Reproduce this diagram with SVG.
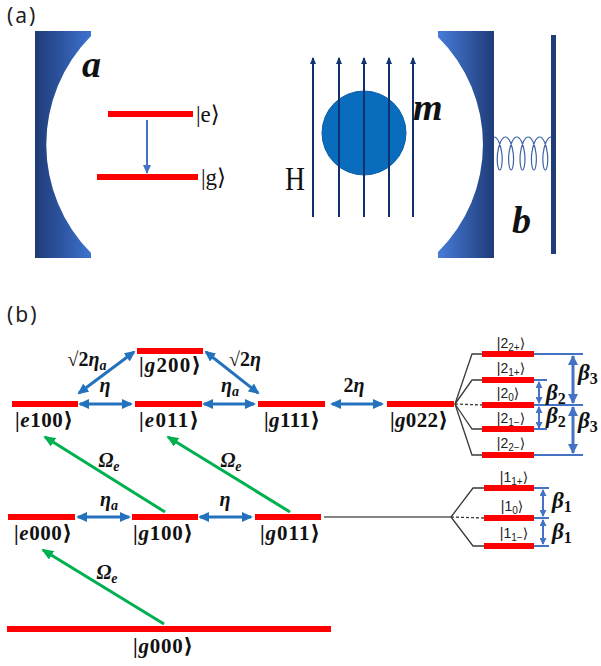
<svg xmlns="http://www.w3.org/2000/svg" width="601" height="666" viewBox="0 0 601 666">
  <defs>
    <linearGradient id="mirL" x1="0" y1="0" x2="1" y2="0">
      <stop offset="0" stop-color="#1f3b76"/>
      <stop offset="1" stop-color="#3d72d0"/>
    </linearGradient>
    <linearGradient id="mirR" x1="0" y1="0" x2="1" y2="0">
      <stop offset="0" stop-color="#477cd9"/>
      <stop offset="1" stop-color="#1f3c78"/>
    </linearGradient>
    <marker id="mField" viewBox="0 0 7 6" refX="6" refY="3" markerWidth="7" markerHeight="6" markerUnits="userSpaceOnUse" orient="auto">
      <path d="M0,0 L7,3 L0,6 z" fill="#10306e"/>
    </marker>
    <marker id="mDecay" viewBox="0 0 9 8" refX="8" refY="4" markerWidth="9" markerHeight="8" markerUnits="userSpaceOnUse" orient="auto">
      <path d="M0,0 L9,4 L0,8 z" fill="#4472c4"/>
    </marker>
    <marker id="mBlue" viewBox="0 0 11 10" refX="9" refY="5" markerWidth="11" markerHeight="10" markerUnits="userSpaceOnUse" orient="auto-start-reverse">
      <path d="M0,0 L11,5 L0,10 z" fill="#2472bd"/>
    </marker>
    <marker id="mGreen" viewBox="0 0 12 10" refX="10" refY="5" markerWidth="12" markerHeight="10" markerUnits="userSpaceOnUse" orient="auto">
      <path d="M0,0 L12,5 L0,10 z" fill="#00b050"/>
    </marker>
    <marker id="mBig" viewBox="0 0 10 10" refX="9" refY="5" markerWidth="10" markerHeight="10" markerUnits="userSpaceOnUse" orient="auto-start-reverse">
      <path d="M0,0 L10,5 L0,10 z" fill="#4472c4"/>
    </marker>
    <marker id="mSmall" viewBox="0 0 7 7" refX="6" refY="3.5" markerWidth="7" markerHeight="7" markerUnits="userSpaceOnUse" orient="auto-start-reverse">
      <path d="M0,0 L7,3.5 L0,7 z" fill="#4472c4"/>
    </marker>
  </defs>
  <style>
    .tag { font-family: "Noto Sans", "Liberation Sans", sans-serif; font-size: 21px; fill: #222; letter-spacing: 2px; }
    .bi { font-family: "Liberation Serif", "DejaVu Serif", serif; font-weight: bold; font-style: italic; fill: #111; }
    .ket { font-family: "Liberation Serif", "DejaVu Serif", serif; font-size: 23px; fill: #111; }
    .lv { fill: #ff0000; }
    .st { font-family: "Liberation Serif", "DejaVu Serif", serif; font-weight: bold; font-size: 21px; fill: #111; text-anchor: middle; }
    .it { font-style: italic; }
    .gk { font-family: "Liberation Serif", "DejaVu Serif", serif; font-weight: bold; font-style: italic; font-size: 20px; fill: #111; text-anchor: middle; }
    .up { font-style: normal; }
    .sub { font-size: 14px; }
    .fs { font-family: "Liberation Sans", "DejaVu Sans", sans-serif; font-size: 14px; fill: #222; text-anchor: middle; }
    .fsub { font-size: 10px; }
    .beta { font-family: "Liberation Serif", "DejaVu Serif", serif; font-weight: bold; font-style: italic; font-size: 23px; fill: #111; }
    .bsub { font-style: normal; font-size: 16px; }
    .blue2 { stroke: #2472bd; stroke-width: 3; fill: none; marker-start: url(#mBlue); marker-end: url(#mBlue); }
    .green { stroke: #00b050; stroke-width: 3; fill: none; marker-end: url(#mGreen); }
    .fan { stroke: #3a3a3a; stroke-width: 1.3; fill: none; }
    .dash { stroke: #3a3a3a; stroke-width: 1.3; stroke-dasharray: 3 2; fill: none; }
    .split { stroke: #4472c4; stroke-width: 2; fill: none; }
    .field { stroke: #10306e; stroke-width: 2; marker-end: url(#mField); }
  </style>

  <!-- (a) cavity magnomechanical setup -->
  <g id="panel-a">
    <text class="tag" x="7" y="23">(a)</text>
    <!-- left cavity mirror -->
    <path id="mirror-left" d="M35,31 H91 V36 A154,154 0 0 0 91,253 V258 H35 Z" fill="url(#mirL)"/>
    <text class="bi" x="82" y="77" font-size="38">a</text>
    <!-- two-level atom -->
    <rect class="lv" x="108" y="111" width="85" height="6"/>
    <rect class="lv" x="97" y="174" width="101" height="6"/>
    <line x1="147" y1="120" x2="147" y2="173" stroke="#4472c4" stroke-width="2" marker-end="url(#mDecay)"/>
    <text class="ket" x="196" y="122">|e⟩</text>
    <text class="ket" x="201" y="185">|g⟩</text>
    <!-- magnon sphere in bias field -->
    <circle cx="364" cy="133" r="42" fill="#0a6cbd" stroke="#0b5ea4" stroke-width="1"/>
    <line class="field" x1="313" y1="217" x2="313" y2="58"/>
    <line class="field" x1="339" y1="217" x2="339" y2="58"/>
    <line class="field" x1="364" y1="217" x2="364" y2="58"/>
    <line class="field" x1="389" y1="217" x2="389" y2="58"/>
    <line class="field" x1="413" y1="217" x2="413" y2="58"/>
    <text x="285" y="190" font-family="Liberation Serif, DejaVu Serif, serif" font-size="34" fill="#111" textLength="20" lengthAdjust="spacingAndGlyphs">H</text>
    <text class="bi" x="413" y="120" font-size="38">m</text>
    <!-- right (movable) mirror, spring and wall -->
    <path id="mirror-right" d="M438,31 H494 V258 H438 V252 A151,151 0 0 0 438,37 Z" fill="url(#mirR)"/>
    <path id="spring" d="M494,137
      c3.568,0 6.899,7.86 7.849,16.5 c0.95,8.64 -0.482,16.5 -2.15,16.5 c-1.668,0 -3.101,-7.86 -2.151,-16.5 c0.95,-8.64 4.282,-16.5 7.85,-16.5
      c3.568,0 6.899,7.86 7.849,16.5 c0.95,8.64 -0.482,16.5 -2.15,16.5 c-1.668,0 -3.101,-7.86 -2.151,-16.5 c0.95,-8.64 4.282,-16.5 7.85,-16.5
      c3.568,0 6.899,7.86 7.849,16.5 c0.95,8.64 -0.482,16.5 -2.15,16.5 c-1.668,0 -3.101,-7.86 -2.151,-16.5 c0.95,-8.64 4.282,-16.5 7.85,-16.5
      c3.568,0 6.899,7.86 7.849,16.5 c0.95,8.64 -0.482,16.5 -2.15,16.5 c-1.668,0 -3.101,-7.86 -2.151,-16.5 c0.95,-8.64 4.282,-16.5 7.85,-16.5
      c3.568,0 6.899,7.86 7.849,16.5 c0.95,8.64 -0.482,16.5 -2.15,16.5 c-1.668,0 -3.101,-7.86 -2.151,-16.5 c0.95,-8.64 4.282,-16.5 7.85,-16.5"
      fill="none" stroke="#3f62a6" stroke-width="1.2"/>
    <rect x="551" y="35" width="5" height="219" fill="#1f3c78"/>
    <text class="bi" x="512" y="233" font-size="38">b</text>
  </g>

  <!-- (b) energy levels -->
  <text class="tag" x="7" y="322">(b)</text>

  <g id="connectors">
    <!-- coherent couplings -->
    <line class="blue2" x1="80" y1="404" x2="131" y2="404"/>
    <line class="blue2" x1="204" y1="404" x2="254" y2="404"/>
    <line class="blue2" x1="332" y1="404" x2="382" y2="404"/>
    <line class="blue2" x1="79" y1="393" x2="134" y2="352"/>
    <line class="blue2" x1="206" y1="352" x2="258" y2="393"/>
    <line class="blue2" x1="78" y1="517" x2="129" y2="517"/>
    <line class="blue2" x1="200" y1="517" x2="251" y2="517"/>
    <!-- drive fields -->
    <line class="green" x1="164" y1="624" x2="43" y2="550"/>
    <line class="green" x1="165" y1="512" x2="45" y2="437"/>
    <line class="green" x1="290" y1="512" x2="168" y2="437"/>
    <!-- splitting fans -->
    <line x1="324" y1="517" x2="451" y2="517" stroke="#5a5a5a" stroke-width="1.3"/>
    <polyline class="fan" points="455,404 472,354 482,354"/>
    <polyline class="fan" points="455,404 472,380 482,380"/>
    <line class="dash" x1="455" y1="404" x2="482" y2="405"/>
    <polyline class="fan" points="455,404 472,429 482,429"/>
    <polyline class="fan" points="455,404 472,455 482,455"/>
    <polyline class="fan" points="451,517 473,488 484,488"/>
    <line class="dash" x1="451" y1="517" x2="484" y2="518"/>
    <polyline class="fan" points="451,517 473,546 484,546"/>
    <!-- splitting markers -->
    <line class="split" x1="534" y1="354" x2="583" y2="354"/>
    <line class="split" x1="534" y1="380" x2="547" y2="380"/>
    <line class="split" x1="534" y1="405" x2="583" y2="405"/>
    <line class="split" x1="534" y1="429" x2="547" y2="429"/>
    <line class="split" x1="534" y1="455" x2="583" y2="455"/>
    <line class="split" x1="534" y1="488" x2="549" y2="488"/>
    <line class="split" x1="534" y1="518" x2="549" y2="518"/>
    <line class="split" x1="534" y1="546" x2="549" y2="546"/>
    <line x1="573" y1="356" x2="573" y2="403" stroke="#4472c4" stroke-width="3" marker-start="url(#mBig)" marker-end="url(#mBig)"/>
    <line x1="573" y1="407" x2="573" y2="453" stroke="#4472c4" stroke-width="3" marker-start="url(#mBig)" marker-end="url(#mBig)"/>
    <line x1="539" y1="382" x2="539" y2="403" stroke="#4472c4" stroke-width="2" marker-start="url(#mSmall)" marker-end="url(#mSmall)"/>
    <line x1="539" y1="407" x2="539" y2="428" stroke="#4472c4" stroke-width="2" marker-start="url(#mSmall)" marker-end="url(#mSmall)"/>
    <line x1="543" y1="490" x2="543" y2="516" stroke="#4472c4" stroke-width="2" marker-start="url(#mSmall)" marker-end="url(#mSmall)"/>
    <line x1="543" y1="520" x2="543" y2="544" stroke="#4472c4" stroke-width="2" marker-start="url(#mSmall)" marker-end="url(#mSmall)"/>
  </g>

  <!-- coupling labels -->
  <g id="coupling-labels">
    <text class="gk" x="87" y="366"><tspan class="up">√2</tspan>η<tspan class="sub" dy="4">a</tspan></text>
    <text class="gk" x="245" y="366"><tspan class="up">√2</tspan>η</text>
    <text class="gk" x="105" y="392">η</text>
    <text class="gk" x="230" y="392">η<tspan class="sub" dy="4">a</tspan></text>
    <text class="gk" x="354" y="392"><tspan class="up">2</tspan>η</text>
    <text class="gk" x="109" y="506">η<tspan class="sub" dy="4">a</tspan></text>
    <text class="gk" x="225" y="506">η</text>
    <text class="gk" x="109" y="467">Ω<tspan class="sub" dy="4">e</tspan></text>
    <text class="gk" x="231" y="467">Ω<tspan class="sub" dy="4">e</tspan></text>
    <text class="gk" x="107" y="579">Ω<tspan class="sub" dy="4">e</tspan></text>
  </g>

  <g id="g200"><rect class="lv" x="137" y="348" width="66" height="6"/><text class="st" x="170" y="372" textLength="62">|<tspan class="it">g</tspan>200⟩</text></g>
  <g id="e100"><rect class="lv" x="12" y="401" width="66" height="6"/><text class="st" x="44" y="427" textLength="58">|<tspan class="it">e</tspan>100⟩</text></g>
  <g id="e011"><rect class="lv" x="135" y="401" width="67" height="6"/><text class="st" x="169" y="427" textLength="60">|<tspan class="it">e</tspan>011⟩</text></g>
  <g id="g111"><rect class="lv" x="258" y="401" width="67" height="6"/><text class="st" x="292" y="427" textLength="56">|<tspan class="it">g</tspan>111⟩</text></g>
  <g id="g022"><rect class="lv" x="387" y="401" width="67" height="6"/><text class="st" x="419" y="427" textLength="58">|<tspan class="it">g</tspan>022⟩</text></g>
  <g id="e000"><rect class="lv" x="8" y="514" width="67" height="6"/><text class="st" x="43" y="540" textLength="58">|<tspan class="it">e</tspan>000⟩</text></g>
  <g id="g100"><rect class="lv" x="132" y="514" width="66" height="6"/><text class="st" x="163" y="540" textLength="60">|<tspan class="it">g</tspan>100⟩</text></g>
  <g id="g011"><rect class="lv" x="255" y="514" width="66" height="6"/><text class="st" x="290" y="540" textLength="60">|<tspan class="it">g</tspan>011⟩</text></g>
  <g id="g000"><rect class="lv" x="7" y="626" width="324" height="6"/><text class="st" x="163" y="653" textLength="60">|<tspan class="it">g</tspan>000⟩</text></g>

  <!-- two-excitation manifold -->
  <g id="two-manifold">
    <rect class="lv" x="482" y="351" width="52" height="6"/>
    <rect class="lv" x="482" y="377" width="52" height="6"/>
    <rect class="lv" x="482" y="402" width="52" height="6"/>
    <rect class="lv" x="482" y="426" width="52" height="6"/>
    <rect class="lv" x="482" y="452" width="52" height="6"/>
    <text class="fs" x="511" y="348">|2<tspan class="fsub" dy="3">2+</tspan><tspan dy="-3">⟩</tspan></text>
    <text class="fs" x="511" y="373">|2<tspan class="fsub" dy="3">1+</tspan><tspan dy="-3">⟩</tspan></text>
    <text class="fs" x="508" y="398">|2<tspan class="fsub" dy="3">0</tspan><tspan dy="-3">⟩</tspan></text>
    <text class="fs" x="511" y="423">|2<tspan class="fsub" dy="3">1−</tspan><tspan dy="-3">⟩</tspan></text>
    <text class="fs" x="511" y="448">|2<tspan class="fsub" dy="3">2−</tspan><tspan dy="-3">⟩</tspan></text>
    <text class="beta" x="546" y="400">β<tspan class="bsub" dy="4">2</tspan></text>
    <text class="beta" x="546" y="423">β<tspan class="bsub" dy="4">2</tspan></text>
    <text class="beta" x="578" y="380">β<tspan class="bsub" dy="4">3</tspan></text>
    <text class="beta" x="578" y="428">β<tspan class="bsub" dy="4">3</tspan></text>
  </g>

  <!-- one-excitation manifold -->
  <g id="one-manifold">
    <rect class="lv" x="484" y="485" width="50" height="6"/>
    <rect class="lv" x="484" y="515" width="50" height="6"/>
    <rect class="lv" x="484" y="543" width="50" height="6"/>
    <text class="fs" x="514" y="482">|1<tspan class="fsub" dy="3">1+</tspan><tspan dy="-3">⟩</tspan></text>
    <text class="fs" x="512" y="511">|1<tspan class="fsub" dy="3">0</tspan><tspan dy="-3">⟩</tspan></text>
    <text class="fs" x="514" y="538">|1<tspan class="fsub" dy="3">1−</tspan><tspan dy="-3">⟩</tspan></text>
    <text class="beta" x="552" y="508">β<tspan class="bsub" dy="4">1</tspan></text>
    <text class="beta" x="552" y="539">β<tspan class="bsub" dy="4">1</tspan></text>
  </g>
</svg>
